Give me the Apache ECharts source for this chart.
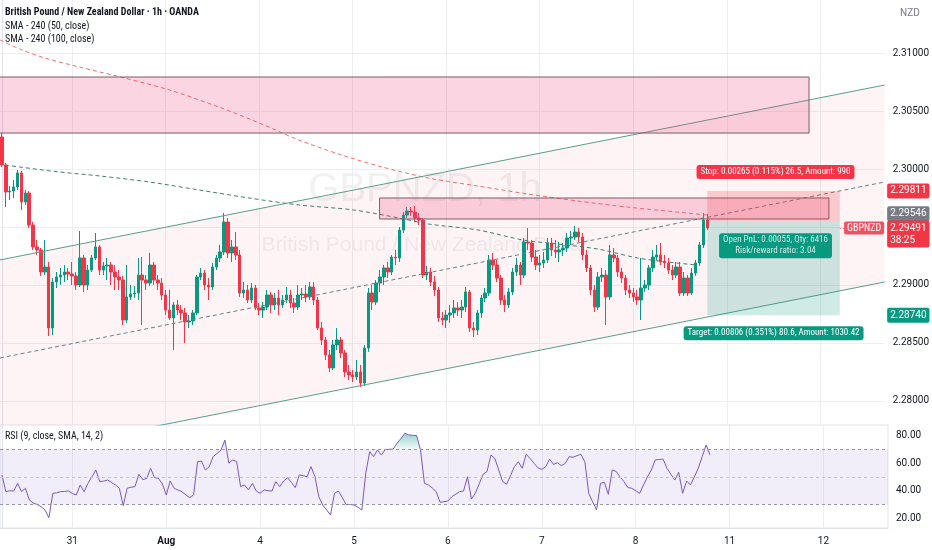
<!DOCTYPE html>
<html><head><meta charset="utf-8">
<script src="https://cdn.jsdelivr.net/npm/echarts@6/dist/echarts.min.js"></script>
<style>html,body{margin:0;padding:0;background:#fff}#c{width:932px;height:550px}</style>
</head><body><div id="c"></div>
<script>
// ---------- DATA ----------
// hourly candles [open, close, low, high]
const candles = [
[2.30276,2.30034,2.30017,2.30310],[2.30034,2.29802,2.29672,2.30052],[2.29802,2.29810,2.29733,2.29853],[2.29810,2.29845,2.29750,2.29905],
[2.29845,2.29966,2.29819,2.29991],[2.29966,2.29716,2.29647,2.29983],[2.29716,2.29793,2.29690,2.29819],[2.29793,2.29517,2.29491,2.29810],
[2.29517,2.29328,2.29302,2.29543],[2.29328,2.29302,2.29259,2.29388],[2.29302,2.29112,2.29078,2.29319],[2.29112,2.29155,2.29086,2.29388],
[2.29155,2.28629,2.28560,2.29198],[2.28629,2.29026,2.28569,2.29060],[2.29026,2.29069,2.28974,2.29112],[2.29069,2.29086,2.29000,2.29147],
[2.29086,2.29112,2.29026,2.29172],[2.29112,2.29095,2.29043,2.29147],[2.29095,2.29078,2.29000,2.29198],[2.29078,2.29000,2.28957,2.29112],
[2.29000,2.29233,2.28983,2.29466],[2.29233,2.29000,2.28940,2.29259],[2.29000,2.29129,2.28957,2.29172],[2.29129,2.29233,2.29112,2.29259],
[2.29233,2.29328,2.29216,2.29448],[2.29328,2.29129,2.29086,2.29345],[2.29129,2.29164,2.29086,2.29198],[2.29164,2.29172,2.29043,2.29233],
[2.29172,2.29112,2.29000,2.29198],[2.29112,2.29069,2.28957,2.29172],[2.29069,2.29043,2.28957,2.29129],[2.29043,2.28698,2.28655,2.29078],
[2.28698,2.28897,2.28673,2.29172],[2.28897,2.28922,2.28871,2.29000],[2.28922,2.28931,2.28888,2.28991],[2.28931,2.29086,2.28871,2.29233],
[2.29086,2.29043,2.28655,2.29241],[2.29043,2.29017,2.28957,2.29086],[2.29017,2.29172,2.28991,2.29276],[2.29172,2.29043,2.29000,2.29198],
[2.29043,2.29017,2.28957,2.29086],[2.29017,2.28914,2.28871,2.29060],[2.28914,2.28784,2.28741,2.28957],[2.28784,2.28716,2.28698,2.28957],
[2.28716,2.28828,2.28440,2.28853],[2.28828,2.28784,2.28741,2.28871],[2.28784,2.28759,2.28698,2.28828],[2.28759,2.28681,2.28500,2.28802],
[2.28681,2.28690,2.28629,2.28741],[2.28690,2.28759,2.28655,2.28784],[2.28759,2.29069,2.28741,2.29086],[2.29069,2.29103,2.29043,2.29147],
[2.29103,2.29000,2.28957,2.29129],[2.29000,2.28983,2.28871,2.29060],[2.28983,2.29155,2.28957,2.29190],[2.29155,2.29233,2.29129,2.29259],
[2.29233,2.29285,2.29198,2.29345],[2.29285,2.29543,2.29259,2.29621],[2.29543,2.29276,2.29233,2.29578],[2.29276,2.29328,2.29198,2.29388],
[2.29328,2.29259,2.29216,2.29457],[2.29259,2.28931,2.28897,2.29302],[2.28931,2.28957,2.28888,2.29026],[2.28957,2.28871,2.28845,2.29000],
[2.28871,2.28974,2.28845,2.29017],[2.28974,2.28802,2.28784,2.29000],[2.28802,2.28784,2.28741,2.28845],[2.28784,2.28810,2.28716,2.28853],
[2.28810,2.28914,2.28784,2.28957],[2.28914,2.28828,2.28759,2.28940],[2.28828,2.28888,2.28784,2.28931],[2.28888,2.28828,2.28741,2.28957],
[2.28828,2.28871,2.28802,2.28914],[2.28871,2.28914,2.28845,2.28983],[2.28914,2.28845,2.28802,2.28957],[2.28845,2.28810,2.28759,2.28888],
[2.28810,2.28914,2.28784,2.29000],[2.28914,2.28922,2.28871,2.28974],[2.28922,2.28897,2.28853,2.29000],[2.28897,2.28983,2.28871,2.29026],
[2.28983,2.28871,2.28828,2.29026],[2.28871,2.28629,2.28612,2.28897],[2.28629,2.28526,2.28483,2.28681],[2.28526,2.28397,2.28353,2.28552],
[2.28397,2.28285,2.28250,2.28440],[2.28285,2.28483,2.28267,2.28526],[2.28483,2.28526,2.28440,2.28629],[2.28526,2.28414,2.28371,2.28552],
[2.28414,2.28250,2.28207,2.28440],[2.28250,2.28224,2.28181,2.28310],[2.28224,2.28207,2.28164,2.28267],[2.28207,2.28250,2.28181,2.28353],
[2.28250,2.28155,2.28121,2.28310],[2.28155,2.28457,2.28129,2.28483],[2.28457,2.28931,2.28423,2.28974],[2.28931,2.28853,2.28784,2.29000],
[2.28853,2.29017,2.28828,2.29043],[2.29017,2.29069,2.28940,2.29129],[2.29069,2.29147,2.29000,2.29172],[2.29147,2.29112,2.29060,2.29198],
[2.29112,2.29241,2.29086,2.29259],[2.29241,2.29233,2.29172,2.29302],[2.29233,2.29474,2.29198,2.29500],[2.29474,2.29603,2.29448,2.29629],
[2.29603,2.29638,2.29578,2.29672],[2.29638,2.29629,2.29595,2.29672],[2.29629,2.29578,2.29543,2.29681],[2.29578,2.29560,2.29517,2.29621],
[2.29560,2.29086,2.29060,2.29578],[2.29086,2.29112,2.29043,2.29164],[2.29112,2.29026,2.28991,2.29147],[2.29026,2.28957,2.28905,2.29078],
[2.28957,2.28716,2.28681,2.28983],[2.28716,2.28698,2.28655,2.28767],[2.28698,2.28741,2.28629,2.28784],[2.28741,2.28759,2.28673,2.28828],
[2.28759,2.28802,2.28716,2.28871],[2.28802,2.28784,2.28733,2.28853],[2.28784,2.28810,2.28716,2.28871],[2.28810,2.28940,2.28767,2.28983],
[2.28940,2.28629,2.28595,2.28957],[2.28629,2.28612,2.28552,2.28681],[2.28612,2.28759,2.28569,2.28784],[2.28759,2.28888,2.28716,2.28914],
[2.28888,2.28931,2.28853,2.28974],[2.28931,2.29216,2.28905,2.29259],[2.29216,2.29172,2.29129,2.29276],[2.29172,2.29060,2.29026,2.29216],
[2.29060,2.28871,2.28828,2.29086],[2.28871,2.28828,2.28767,2.28914],[2.28828,2.28940,2.28802,2.28974],[2.28940,2.29112,2.28914,2.29147],
[2.29112,2.29172,2.29078,2.29233],[2.29172,2.29086,2.29000,2.29198],[2.29086,2.29371,2.29060,2.29405],[2.29371,2.29362,2.29302,2.29491],
[2.29362,2.29241,2.29198,2.29388],[2.29241,2.29172,2.29129,2.29302],[2.29172,2.29190,2.29112,2.29259],[2.29190,2.29216,2.29147,2.29285],
[2.29216,2.29362,2.29190,2.29405],[2.29362,2.29302,2.29250,2.29405],[2.29302,2.29285,2.29233,2.29388],[2.29285,2.29302,2.29198,2.29371],
[2.29302,2.29319,2.29250,2.29362],[2.29319,2.29405,2.29285,2.29448],[2.29405,2.29414,2.29345,2.29466],[2.29414,2.29457,2.29388,2.29509],
[2.29457,2.29414,2.29371,2.29491],[2.29414,2.29259,2.29216,2.29448],[2.29259,2.29147,2.29112,2.29302],[2.29147,2.28957,2.28914,2.29172],
[2.28957,2.28810,2.28767,2.29000],[2.28810,2.29069,2.28784,2.29112],[2.29069,2.29086,2.29026,2.29147],[2.29086,2.28897,2.28655,2.29129],
[2.28897,2.29259,2.28871,2.29345],[2.29259,2.29233,2.29198,2.29319],[2.29233,2.29112,2.29069,2.29259],[2.29112,2.29060,2.29017,2.29147],
[2.29060,2.28957,2.28914,2.29086],[2.28957,2.28931,2.28888,2.29000],[2.28931,2.28897,2.28853,2.28974],[2.28897,2.28871,2.28828,2.28957],
[2.28871,2.28974,2.28698,2.29233],[2.28974,2.29000,2.28940,2.29043],[2.29000,2.29147,2.28957,2.29172],[2.29147,2.29241,2.29112,2.29302],
[2.29241,2.29259,2.29216,2.29345],[2.29259,2.29198,2.29172,2.29362],[2.29198,2.29190,2.29147,2.29259],[2.29190,2.29129,2.29095,2.29233],
[2.29129,2.29086,2.29043,2.29172],[2.29086,2.29155,2.29060,2.29198],[2.29155,2.28931,2.28905,2.29198],[2.28931,2.29060,2.28905,2.29112],
[2.29060,2.28931,2.28905,2.29086],[2.28931,2.29103,2.28914,2.29147],[2.29103,2.29190,2.29078,2.29216],[2.29190,2.29345,2.29164,2.29371],
[2.29345,2.29560,2.29319,2.29621],[2.29560,2.29491,2.29474,2.29612]
];
// RSI(9) per candle
const rsi = [
51.5,39.3,40,39.8,45.4,39.3,41.8,33.3,31,30,28.4,26,20.4,38.1,38.5,39.3,39.5,39.8,38,36.9,
44.2,39.3,45.4,50,55.1,46.6,47,47.8,46,44.2,41.8,29.1,41.8,42.5,43,52,48,49,56.3,49.5,
49,45,36.9,47.1,41.8,40.5,39.3,37,35,37,61.1,61.6,55.1,57.5,64.8,67.2,69.6,76.9,60,62.4,
61.1,43,44.2,40.6,45.4,39.8,38.1,40.6,40,39.8,46.6,43,47,49.5,46,42.3,51.5,51,50.2,57.5,
50.2,35.7,29.6,26,22.4,38.1,39.8,35,30,30,29.6,28,26,52.7,68.4,64.8,69.6,66,70,70.1,
70.3,74.5,78,81.8,80.6,80.3,80.1,69.6,45.4,44.2,42,39.3,31.6,32,32.5,35.7,37.5,39.3,39.8,50.2,
34,38.1,45,52,54,66,63.5,55,46.6,44.7,51,57.5,61.1,56.3,66.5,63.5,60,56.7,55.5,57.5,
63,59.1,60.4,58.2,59.9,64.8,64.3,65.5,66.5,61.1,38.1,32,26,45.4,46.1,37.4,55.1,54,50,46.6,
42.3,41.8,40,38.1,44.2,50,55.1,62.4,62.7,63,56.3,52,47.8,53.4,38.1,47.1,44.2,50,56.3,64.8,
73.3,66
];
// SMA - 240 lines: [bar index, price]
const sma50 = [[0.8,2.30034],[4.6,2.30017],[14.8,2.29974],[25.1,2.29940],[37.8,2.29888],[50.6,2.29819],[63.4,2.29750],[76.2,2.29690],[90.2,2.29647],[101.8,2.29578],[109.4,2.29526],[122.2,2.29474],[133.7,2.29388],[142.6,2.29353],[152.9,2.29310],[163.1,2.29233],[170.8,2.29198],[178.4,2.29172]];
const sma100 = [[-0.5,2.31112],[4.6,2.31034],[11,2.30957],[19.9,2.30879],[31.5,2.30784],[43,2.30681],[55.7,2.30534],[66,2.30397],[76.2,2.30250],[86.4,2.30129],[96.6,2.30026],[109.4,2.29922],[122.2,2.29853],[135,2.29784],[147.8,2.29724],[160.5,2.29672],[173.3,2.29629],[181,2.29603]];
// parallel channel drawing: [bar index, price]
const channelUpper = [[-0.5,2.29216],[226.5,2.30724]];
const channelMiddle = [[-0.5,2.28371],[226.5,2.29888]];
const channelLower = [[-0.5,2.27517],[226.5,2.29026]];
// rectangle drawings: [startIdx, endIdx, lowPrice, highPrice]
const zones = [[-3,207.1,2.30310,2.30793],[96.9,212.2,2.29569,2.29750]];
// long position tool
const tradeStart = 181, tradeEnd = 215;
const entryPrice = 2.29546, stopPrice = 2.29811, targetPrice = 2.28740, lastPrice = 2.29491;
const stopText = 'Stop: 0.00265 (0.115%) 26.5, Amount: 990';
const pnlText = 'Open PnL: 0.00055, Qty: 6416\nRisk/reward ratio: 3.04';
const targetText = 'Target: 0.00806 (0.351%) 80.6, Amount: 1030.42';
const countdown = '38:25';
// ticks
const dayTicks = [[18,'31'],[42,'Aug'],[66,'4'],[90,'5'],[114,'6'],[138,'7'],[162,'8'],[186,'11'],[210,'12']];
const priceTicks = [2.28,2.285,2.29,2.30,2.305,2.31];
const priceGridValues = [2.28,2.285,2.29,2.295,2.30,2.305,2.31];
const rsiTicks = [20,40,60,80];
const rsiLevels = [70,50,30];
const slotCount = 227;

// ---------- CHART ----------
const FONT = '"Liberation Sans Narrow", "Roboto Condensed", Roboto, sans-serif';
const AXF = 'Roboto, "Noto Sans", sans-serif';
const UP = '#089981', DOWN = '#F23645';
const cats = Array.from({length: slotCount}, (_, i) => String(i));
const dayIdx = dayTicks.map(d => d[0]);
const dayName = {}; dayTicks.forEach(d => dayName[d[0]] = d[1]);
const xMin = -0.5, xMax = slotCount - 0.5;

function axisTag(price, text, bg, dy) {
  return {coord: [xMax, price], symbol: 'rect', symbolSize: [1, 1], itemStyle: {color: 'rgba(0,0,0,0)'},
    label: {show: true, position: 'right', distance: 2, formatter: text, backgroundColor: bg, color: '#fff',
      fontSize: 10, fontFamily: AXF, padding: [2, 3, 1, 3], borderRadius: 2, offset: [0, dy], lineHeight: 12, align: 'left'}};
}
function boxTag(x, price, text, bg, dy) {
  return {coord: [x, price], symbol: 'rect', symbolSize: [1, 1], itemStyle: {color: 'rgba(0,0,0,0)'},
    label: {show: true, position: 'inside', formatter: text, backgroundColor: bg, color: '#fff',
      fontSize: 9, fontFamily: FONT, padding: [2, 4, 1, 4], borderRadius: 3, offset: [0, dy], lineHeight: 11, align: 'center'}};
}

const chart = echarts.init(document.getElementById('c'));
const option = {
  animation: false,
  backgroundColor: '#ffffff',
  grid: [
    {left: 0, right: 44, top: 0, height: 425},
    {left: 0, right: 44, top: 425, height: 103, show: true, borderColor: '#e0e3eb', borderWidth: 1, backgroundColor: 'transparent'}
  ],
  xAxis: [
    {gridIndex: 0, type: 'category', data: cats, boundaryGap: true, show: false},
    {gridIndex: 0, type: 'value', min: xMin, max: xMax, axisLine: {show: false}, axisLabel: {show: false},
      axisTick: {show: false, customValues: dayIdx}, splitLine: {show: true, lineStyle: {color: '#eeeef1'}}},
    {gridIndex: 1, type: 'value', min: xMin, max: xMax, axisLine: {show: true, lineStyle: {color: '#e0e3eb'}},
      axisTick: {show: false, customValues: dayIdx},
      axisLabel: {customValues: dayIdx, color: '#131722', fontSize: 10, fontFamily: AXF, margin: 8,
        formatter: v => { const t = dayName[Math.round(v)]; return t === 'Aug' ? '{b|Aug}' : (t || ''); },
        rich: {b: {fontWeight: 'bold', fontSize: 10, color: '#131722', fontFamily: AXF}}},
      splitLine: {show: true, lineStyle: {color: '#eeeef1'}}}
  ],
  yAxis: [
    {gridIndex: 0, type: 'value', position: 'right', min: 2.27793, max: 2.31457,
      axisLine: {show: true, lineStyle: {color: '#e0e3eb'}},
      axisTick: {show: false, customValues: priceGridValues},
      axisLabel: {customValues: priceTicks, formatter: v => v.toFixed(5), color: '#131722', fontSize: 10, fontFamily: AXF, margin: 8},
      splitLine: {show: true, lineStyle: {color: '#eeeef1'}}},
    {gridIndex: 1, type: 'value', position: 'right', min: 12.9, max: 87.8,
      axisLine: {show: true, lineStyle: {color: '#e0e3eb'}},
      axisTick: {show: false, customValues: rsiTicks},
      axisLabel: {customValues: rsiTicks, formatter: v => v.toFixed(2), color: '#131722', fontSize: 10, fontFamily: AXF, margin: 8},
      splitLine: {show: false}}
  ],
  graphic: [
    {type: 'text', x: 425, y: 190, z: -10, style: {text: 'GBPNZD, 1h', font: '40px "Liberation Sans", Arial, sans-serif', fill: 'rgba(60,60,70,0.07)', align: 'center', verticalAlign: 'middle'}},
    {type: 'text', x: 425, y: 245, z: -10, style: {text: 'British Pound / New Zealand Dollar', font: '21px "Liberation Sans", Arial, sans-serif', fill: 'rgba(60,60,70,0.07)', align: 'center', verticalAlign: 'middle'}},
    {type: 'text', x: 5, y: 7, z: 100, style: {text: 'British Pound / New Zealand Dollar · 1h · OANDA', font: 'bold 10px ' + FONT, fill: '#131722'}},
    {type: 'text', x: 5, y: 21, z: 100, style: {text: 'SMA - 240 (50, close)', font: '10px ' + FONT, fill: '#131722'}},
    {type: 'text', x: 5, y: 34, z: 100, style: {text: 'SMA - 240 (100, close)', font: '10px ' + FONT, fill: '#131722'}},
    {type: 'text', x: 5, y: 431, z: 100, style: {text: 'RSI (9, close, SMA, 14, 2)', font: '10px ' + FONT, fill: '#131722'}},
    {type: 'text', x: 900, y: 8, z: 100, style: {text: 'NZD', font: '10px ' + AXF, fill: '#787b86'}}
  ],
  series: [
    {type: 'custom', name: 'channelFill', xAxisIndex: 1, yAxisIndex: 0, z: 1, silent: true,
      data: [[channelUpper[0][0], channelUpper[1][0], channelUpper[0][1], channelUpper[1][1], channelLower[0][1], channelLower[1][1]]],
      renderItem: (params, api) => {
        const pts = [api.coord([api.value(0), api.value(2)]), api.coord([api.value(1), api.value(3)]),
                     api.coord([api.value(1), api.value(5)]), api.coord([api.value(0), api.value(4)])];
        const cs = params.coordSys;
        return {type: 'group', clipPath: {type: 'rect', shape: {x: cs.x, y: cs.y, width: cs.width, height: cs.height}},
          children: [{type: 'polygon', shape: {points: pts}, style: {fill: 'rgba(242,54,69,0.055)'}}]};
      }},
    {type: 'candlestick', name: 'GBPNZD', xAxisIndex: 0, yAxisIndex: 0, z: 3, barWidth: 3, data: candles,
      itemStyle: {color: UP, color0: DOWN, borderColor: UP, borderColor0: DOWN, borderWidth: 1}},
    {type: 'line', name: 'SMA100', xAxisIndex: 1, yAxisIndex: 0, z: 4, data: sma100, symbol: 'none', smooth: 0.3, silent: true,
      lineStyle: {color: '#ef6f6c', width: 1, type: [4, 3]}},
    {type: 'line', name: 'SMA50', xAxisIndex: 1, yAxisIndex: 0, z: 4, data: sma50, symbol: 'none', smooth: 0.3, silent: true,
      lineStyle: {color: '#3d7f73', width: 1, type: [4, 3]}},
    {type: 'line', name: 'upper', xAxisIndex: 1, yAxisIndex: 0, z: 5, data: channelUpper, symbol: 'none', silent: true,
      lineStyle: {color: '#5a9c8c', width: 1}},
    {type: 'line', name: 'middle', xAxisIndex: 1, yAxisIndex: 0, z: 5, data: channelMiddle, symbol: 'none', silent: true,
      lineStyle: {color: '#64808a', width: 1, type: [4, 3]}},
    {type: 'line', name: 'lower', xAxisIndex: 1, yAxisIndex: 0, z: 5, data: channelLower, symbol: 'none', silent: true,
      lineStyle: {color: '#5a9c8c', width: 1}},
    {type: 'custom', name: 'zones', xAxisIndex: 1, yAxisIndex: 0, z: 6, silent: true, data: zones,
      renderItem: (params, api) => {
        const a = api.coord([api.value(0), api.value(3)]);
        const b = api.coord([api.value(1), api.value(2)]);
        const cs = params.coordSys;
        return {type: 'group', clipPath: {type: 'rect', shape: {x: cs.x, y: cs.y, width: cs.width, height: cs.height}},
          children: [{type: 'rect', shape: {x: a[0], y: a[1], width: b[0] - a[0], height: b[1] - a[1]},
          style: {fill: 'rgba(236,64,122,0.22)', stroke: '#7a5c66', lineWidth: 1}}]};
      }},
    {type: 'custom', name: 'position', xAxisIndex: 1, yAxisIndex: 0, z: 6, silent: true,
      data: [[tradeStart, tradeEnd, stopPrice, entryPrice, targetPrice]],
      renderItem: (params, api) => {
        const p1 = api.coord([api.value(0), api.value(2)]);
        const p2 = api.coord([api.value(1), api.value(3)]);
        const p3 = api.coord([api.value(1), api.value(4)]);
        return {type: 'group', children: [
          {type: 'rect', shape: {x: p1[0], y: p1[1], width: p2[0] - p1[0], height: p2[1] - p1[1]}, style: {fill: 'rgba(242,54,69,0.22)'}},
          {type: 'rect', shape: {x: p1[0], y: p2[1], width: p2[0] - p1[0], height: p3[1] - p2[1]}, style: {fill: 'rgba(8,153,129,0.2)'}}
        ]};
      }},
    {type: 'line', name: 'tags', xAxisIndex: 1, yAxisIndex: 0, z: 10, data: [[tradeStart, lastPrice]], symbol: 'none', silent: true,
      lineStyle: {width: 0},
      markLine: {silent: true, symbol: 'none', label: {show: false},
        lineStyle: {color: '#F23645', width: 1, type: [1, 2], opacity: 0.7},
        data: [[{coord: [tradeEnd, lastPrice]}, {coord: [xMax, lastPrice]}]]},
      markPoint: {silent: true, data: [
        boxTag((tradeStart + tradeEnd) / 2 + 0.5, stopPrice, stopText, '#F23645', -19),
        boxTag((tradeStart + tradeEnd) / 2 + 0.5, entryPrice, pnlText, '#089981', 24),
        boxTag((tradeStart + tradeEnd) / 2, targetPrice, targetText, '#089981', 18),
        axisTag(stopPrice, stopPrice.toFixed(5), '#F23645', 0),
        axisTag(entryPrice, entryPrice.toFixed(5), '#787B86', -8),
        axisTag(lastPrice, lastPrice.toFixed(5) + '\n' + countdown, '#F23645', 6),
        axisTag(targetPrice, targetPrice.toFixed(5), '#089981', 0),
        {coord: [xMax, lastPrice], symbol: 'rect', symbolSize: [1, 1], itemStyle: {color: 'rgba(0,0,0,0)'},
          label: {show: true, position: 'left', distance: 0, formatter: 'GBPNZD', backgroundColor: '#ef5361', color: '#fff',
            fontSize: 10, fontFamily: FONT, padding: [2, 3, 1, 3], borderRadius: 2}}
      ]}},
    {type: 'custom', name: 'rsiOverbought', xAxisIndex: 2, yAxisIndex: 1, z: 3, silent: true,
      data: rsi.slice(0, -1).map((v, i) => [i, v, rsi[i + 1]]),
      renderItem: (params, api) => {
        const i = api.value(0), a = api.value(1), b = api.value(2);
        if (a <= rsiLevels[0] && b <= rsiLevels[0]) return {type: 'group', children: []};
        const p0 = api.coord([i, a]), p1 = api.coord([i + 1, b]);
        const q1 = api.coord([i + 1, rsiLevels[0]]), q0 = api.coord([i, rsiLevels[0]]);
        const top = api.coord([i, 85])[1];
        const cs = params.coordSys;
        return {type: 'group', clipPath: {type: 'rect', shape: {x: cs.x, y: cs.y, width: cs.width, height: q0[1] - cs.y}},
          children: [{type: 'polygon', shape: {points: [p0, p1, q1, q0]},
            style: {fill: new echarts.graphic.LinearGradient(0, top, 0, q0[1], [{offset: 0, color: 'rgba(8,153,129,0.55)'}, {offset: 1, color: 'rgba(8,153,129,0.04)'}], true)}}]};
      }},
    {type: 'line', name: 'RSI', xAxisIndex: 2, yAxisIndex: 1, z: 4, data: rsi.map((v, i) => [i, v]), symbol: 'none', silent: true,
      lineStyle: {color: '#7E57C2', width: 1},
      markArea: {silent: true, itemStyle: {color: 'rgba(126,87,194,0.1)'}, data: [[{yAxis: rsiLevels[2]}, {yAxis: rsiLevels[0]}]]},
      markLine: {silent: true, symbol: 'none', label: {show: false},
        lineStyle: {color: '#9598a1', width: 1, type: [3, 3]},
        data: [{yAxis: rsiLevels[0]}, {yAxis: rsiLevels[1], lineStyle: {color: '#c3c5cc', type: [3, 3]}}, {yAxis: rsiLevels[2]}]}}
  ]
};
chart.setOption(option);
</script>
</body></html>
